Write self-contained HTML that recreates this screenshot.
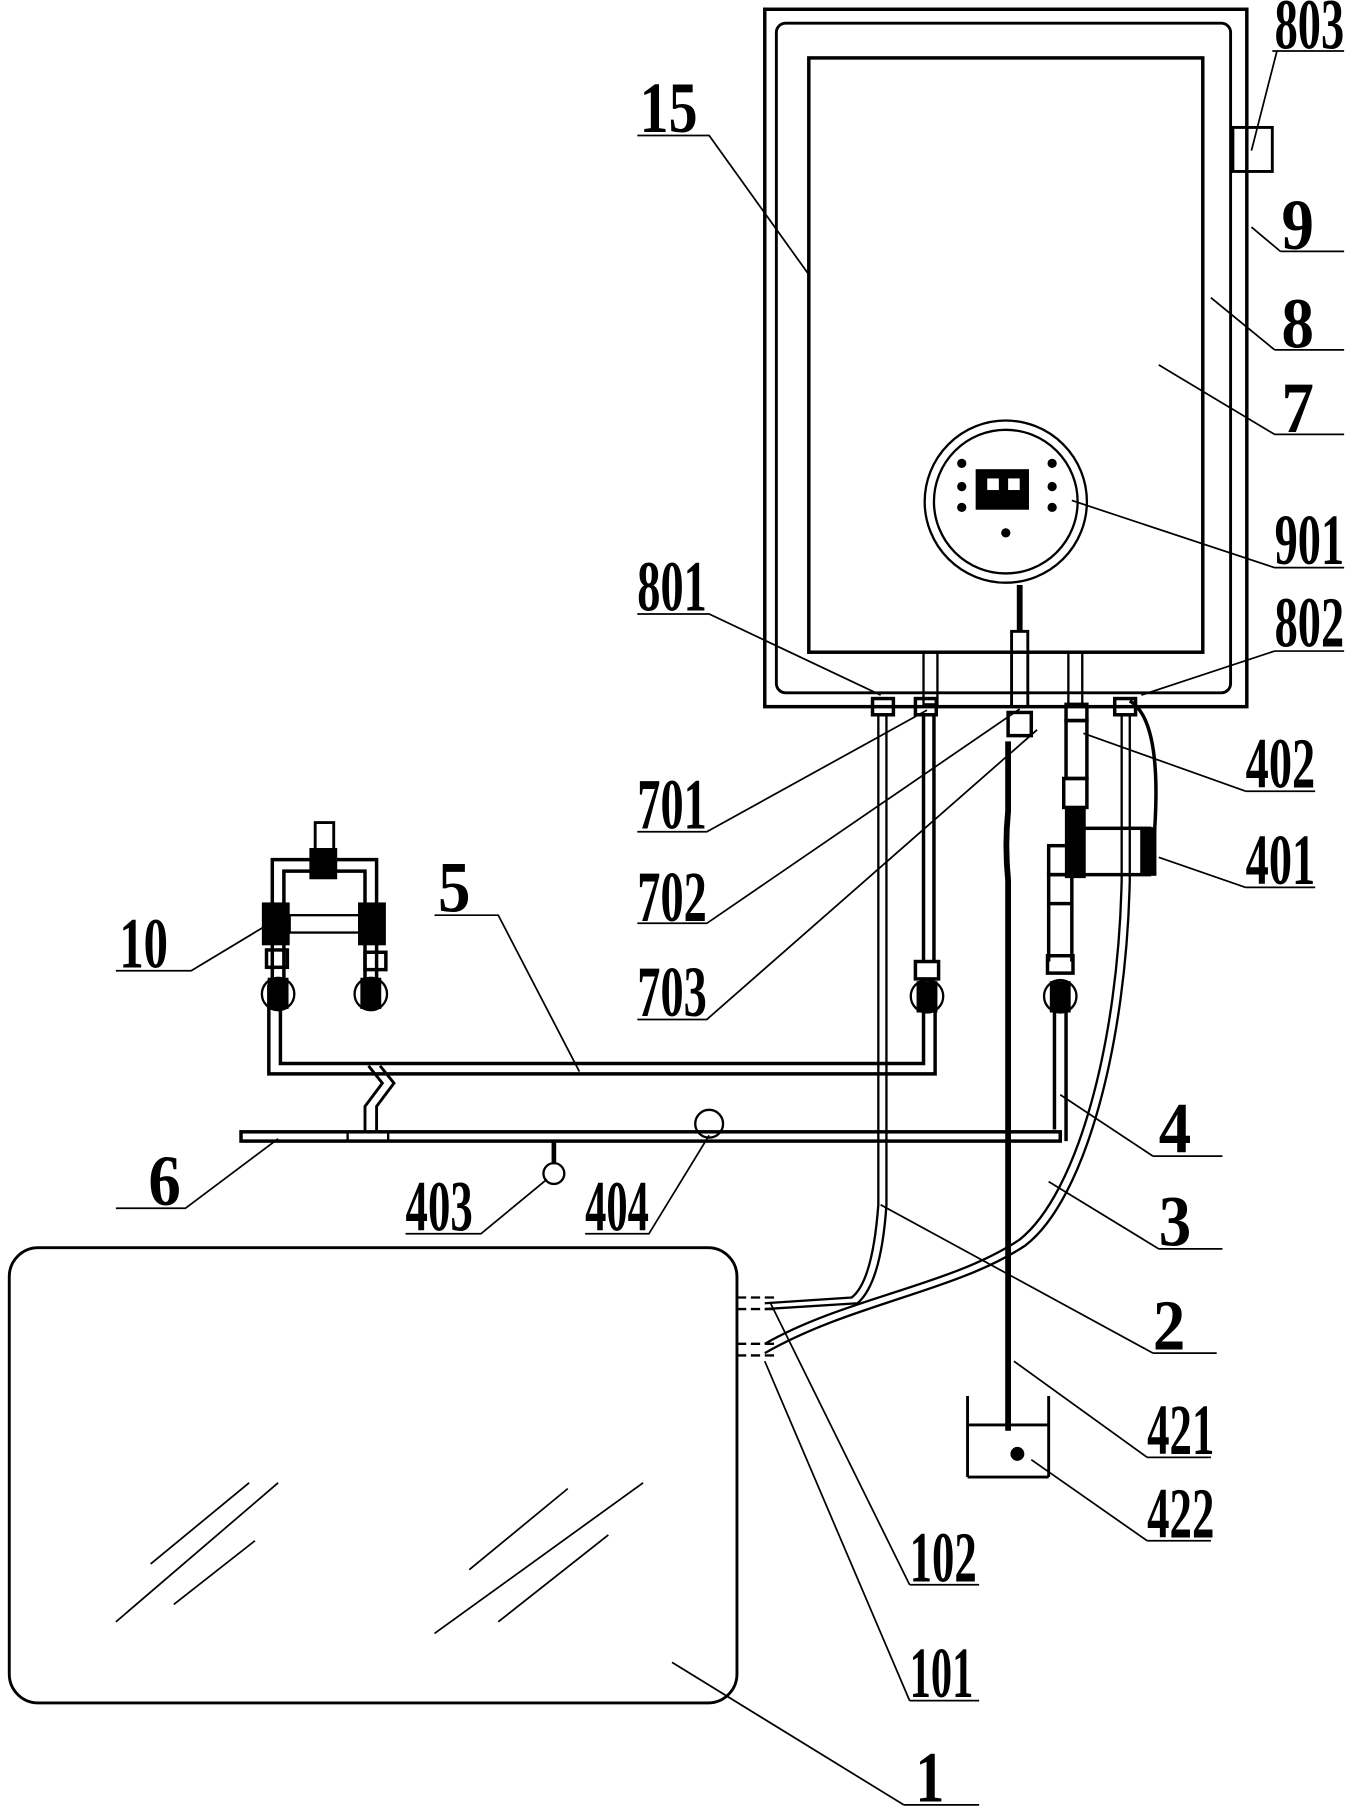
<!DOCTYPE html>
<html><head><meta charset="utf-8"><style>
html,body{margin:0;padding:0;background:#fff;}
svg{display:block;}
text{font-family:"Liberation Serif",serif;font-weight:bold;font-size:62px;fill:#000;}
</style></head><body>
<svg width="1365" height="1813" viewBox="0 0 1178 1565" preserveAspectRatio="none" xmlns="http://www.w3.org/2000/svg">
<g fill="none" stroke="#000" stroke-width="2">
<rect x="660" y="8" width="416" height="602" stroke-width="3"/>
<rect x="670" y="20" width="392" height="578" rx="8" stroke-width="2.5"/>
<rect x="698" y="50" width="340" height="513" stroke-width="3"/>
<rect x="1064" y="110" width="34" height="38" stroke-width="2.5"/>
<circle cx="868" cy="433" r="70" stroke-width="2"/>
<circle cx="868" cy="433" r="62" stroke-width="2"/>
<line x1="880" y1="505" x2="880" y2="545" stroke-width="5"/>
<rect x="873" y="545" width="14" height="65" stroke-width="2.5"/>
<rect x="797" y="563" width="12" height="45"/>
<rect x="922" y="563" width="12" height="45"/>
<rect x="753" y="603" width="18" height="14" stroke-width="3"/>
<rect x="790" y="603" width="18" height="14" stroke-width="3"/>
<rect x="870" y="615" width="20" height="20" stroke-width="3"/>
<rect x="920" y="608" width="18" height="14" stroke-width="3"/>
<rect x="962" y="603" width="18" height="14" stroke-width="3"/>
<path d="M758 617 L758 1040 C755 1080 748 1110 735 1120 L660 1125" stroke-width="2"/>
<path d="M765 617 L765 1040 C762 1085 754 1113 740 1125 L660 1130" stroke-width="2"/>
<line x1="797" y1="617" x2="797" y2="830" stroke-width="3"/>
<line x1="806" y1="617" x2="806" y2="830" stroke-width="3"/>
<rect x="790" y="830" width="20" height="15" stroke-width="3"/>
<circle cx="800" cy="860" r="14" stroke-width="2"/>
<rect x="792" y="848" width="16" height="25" fill="#000"/>
<path d="M232 850 L232 927 L807 927 L807 873" stroke-width="3"/>
<path d="M242 850 L242 918 L797 918 L797 873" stroke-width="3"/>
<rect x="920" y="622" width="18" height="50" stroke-width="3"/>
<rect x="918" y="672" width="20" height="25" stroke-width="3"/>
<rect x="920" y="697" width="16" height="60" fill="#000"/>
<rect x="930" y="715" width="62" height="40" stroke-width="3"/>
<rect x="985" y="715" width="12" height="40" fill="#000"/>
<rect x="905" y="730" width="30" height="25" stroke-width="3"/>
<rect x="905" y="755" width="20" height="25" stroke-width="3"/>
<path d="M905 780 L905 830" stroke-width="3"/>
<path d="M925 780 L925 830" stroke-width="3"/>
<rect x="904" y="825" width="22" height="15" stroke-width="3"/>
<circle cx="915" cy="860" r="14"/>
<rect x="907" y="848" width="16" height="25" fill="#000"/>
<path d="M910 873 L910 975" stroke-width="3"/>
<path d="M920 873 L920 985" stroke-width="3"/>
<path d="M870 640 L870 700 C 868 720 868 740 870 760 L870 1235" stroke-width="5"/>
<path d="M835 1205 L835 1275 M905 1205 L905 1275 M835 1275 L905 1275 M835 1230 L905 1230" stroke-width="2.5"/>
<circle cx="878" cy="1255" r="5" fill="#000"/>
<path d="M968 617 L968 760 C 965 900 930 1030 880 1070 C 820 1110 730 1120 660 1160" stroke-width="2"/>
<path d="M975 617 L975 760 C 972 900 937 1035 885 1075 C 825 1115 735 1125 660 1168" stroke-width="2"/>
<path d="M975 605 C 1000 620 1000 680 995 735" stroke-width="3"/>
<path d="M636 1120 L670 1120 M636 1130 L670 1130 M636 1160 L670 1160 M636 1170 L670 1170" stroke-dasharray="8 4"/>
<rect x="208" y="977" width="707" height="8" stroke-width="3"/>
<line x1="300" y1="977" x2="300" y2="985"/><line x1="335" y1="977" x2="335" y2="985"/>
<path d="M315 977 L315 955 L330 935 L318 920 M325 977 L325 955 L340 935 L328 920" stroke-width="2.5"/>
<circle cx="612" cy="970" r="12"/>
<line x1="478" y1="985" x2="478" y2="1005" stroke-width="4"/>
<circle cx="478" cy="1013" r="9"/>
<path d="M235 850 L235 742 L325 742 L325 850" stroke-width="3"/>
<path d="M245 850 L245 752 L315 752 L315 850" stroke-width="3"/>
<rect x="268" y="733" width="22" height="25" fill="#000"/>
<path d="M272 733 L272 710 L288 710 L288 733" stroke-width="2.5"/>
<rect x="227" y="780" width="22" height="35" fill="#000"/>
<rect x="310" y="780" width="22" height="35" fill="#000"/>
<rect x="250" y="790" width="60" height="15"/>
<rect x="230" y="820" width="18" height="15" stroke-width="3"/>
<rect x="315" y="822" width="18" height="15" stroke-width="3"/>
<circle cx="240" cy="858" r="14"/><rect x="232" y="845" width="16" height="25" fill="#000"/>
<circle cx="320" cy="858" r="14"/><rect x="312" y="845" width="16" height="25" fill="#000"/>
<rect x="8" y="1077" width="628" height="393" rx="25" stroke-width="2.5"/>
<path d="M130 1350 L215 1280 M100 1400 L240 1280 M150 1385 L220 1330 M405 1355 L490 1285 M375 1410 L555 1280 M430 1400 L525 1325" stroke-width="1.5"/>
<g stroke-width="1.5">
<path d="M1098 44 L1160 44 M1102 44 L1080 130"/>
<path d="M1105 217 L1160 217 M1105 217 L1080 196"/>
<path d="M1100 302 L1160 302 M1100 302 L1045 257"/>
<path d="M1100 375 L1160 375 M1100 375 L1000 315"/>
<path d="M1100 490 L1160 490 M1100 490 L925 432"/>
<path d="M1100 562 L1160 562 M1100 562 L985 600"/>
<path d="M1075 683 L1135 683 M1075 683 L935 633"/>
<path d="M1075 766 L1135 766 M1075 766 L1000 740"/>
<path d="M550 117 L612 117 L698 237"/>
<path d="M550 530 L612 530 L760 600"/>
<path d="M550 718 L610 718 L800 613"/>
<path d="M550 797 L610 797 L880 612"/>
<path d="M550 880 L610 880 L895 630"/>
<path d="M100 838 L165 838 L228 800"/>
<path d="M375 790 L430 790 L500 925"/>
<path d="M995 998 L1055 998 M995 998 L915 945"/>
<path d="M1000 1078 L1055 1078 M1000 1078 L905 1020"/>
<path d="M995 1168 L1050 1168 M995 1168 L760 1040"/>
<path d="M990 1258 L1045 1258 M990 1258 L875 1175"/>
<path d="M990 1330 L1045 1330 M990 1330 L890 1260"/>
<path d="M785 1368 L845 1368 M785 1368 L665 1125"/>
<path d="M785 1468 L845 1468 M785 1468 L660 1175"/>
<path d="M780 1558 L845 1558 M780 1558 L580 1435"/>
<path d="M100 1043 L160 1043 L240 983"/>
<path d="M350 1065 L415 1065 L472 1018"/>
<path d="M505 1065 L560 1065 L612 980"/>
</g>
</g>
<g fill="#000">
<rect x="842" y="405" width="46" height="35"/>
<circle cx="830" cy="400" r="4"/><circle cx="830" cy="420" r="4"/><circle cx="830" cy="438" r="4"/>
<circle cx="908" cy="400" r="4"/><circle cx="908" cy="420" r="4"/><circle cx="908" cy="438" r="4"/>
<circle cx="868" cy="460" r="4"/>
</g>
<rect x="852" y="413" width="10" height="10" fill="#fff"/><rect x="870" y="413" width="10" height="10" fill="#fff"/>
<g>
<text x="1100" y="42" textLength="60" lengthAdjust="spacingAndGlyphs">803</text>
<text x="1106" y="215" textLength="28" lengthAdjust="spacingAndGlyphs">9</text>
<text x="1106" y="300" textLength="28" lengthAdjust="spacingAndGlyphs">8</text>
<text x="1106" y="373" textLength="28" lengthAdjust="spacingAndGlyphs">7</text>
<text x="1100" y="487" textLength="60" lengthAdjust="spacingAndGlyphs">901</text>
<text x="1100" y="558" textLength="60" lengthAdjust="spacingAndGlyphs">802</text>
<text x="1075" y="680" textLength="60" lengthAdjust="spacingAndGlyphs">402</text>
<text x="1075" y="763" textLength="60" lengthAdjust="spacingAndGlyphs">401</text>
<text x="552" y="114" textLength="50" lengthAdjust="spacingAndGlyphs">15</text>
<text x="550" y="527" textLength="60" lengthAdjust="spacingAndGlyphs">801</text>
<text x="550" y="715" textLength="60" lengthAdjust="spacingAndGlyphs">701</text>
<text x="550" y="795" textLength="60" lengthAdjust="spacingAndGlyphs">702</text>
<text x="550" y="877" textLength="60" lengthAdjust="spacingAndGlyphs">703</text>
<text x="103" y="835" textLength="42" lengthAdjust="spacingAndGlyphs">10</text>
<text x="378" y="787" textLength="28" lengthAdjust="spacingAndGlyphs">5</text>
<text x="1000" y="995" textLength="28" lengthAdjust="spacingAndGlyphs">4</text>
<text x="1000" y="1075" textLength="28" lengthAdjust="spacingAndGlyphs">3</text>
<text x="995" y="1165" textLength="28" lengthAdjust="spacingAndGlyphs">2</text>
<text x="990" y="1255" textLength="58" lengthAdjust="spacingAndGlyphs">421</text>
<text x="990" y="1327" textLength="58" lengthAdjust="spacingAndGlyphs">422</text>
<text x="785" y="1365" textLength="58" lengthAdjust="spacingAndGlyphs">102</text>
<text x="785" y="1465" textLength="55" lengthAdjust="spacingAndGlyphs">101</text>
<text x="790" y="1555" textLength="25" lengthAdjust="spacingAndGlyphs">1</text>
<text x="128" y="1040" textLength="28" lengthAdjust="spacingAndGlyphs">6</text>
<text x="350" y="1062" textLength="58" lengthAdjust="spacingAndGlyphs">403</text>
<text x="505" y="1062" textLength="55" lengthAdjust="spacingAndGlyphs">404</text>
</g>
</svg>
</body></html>
